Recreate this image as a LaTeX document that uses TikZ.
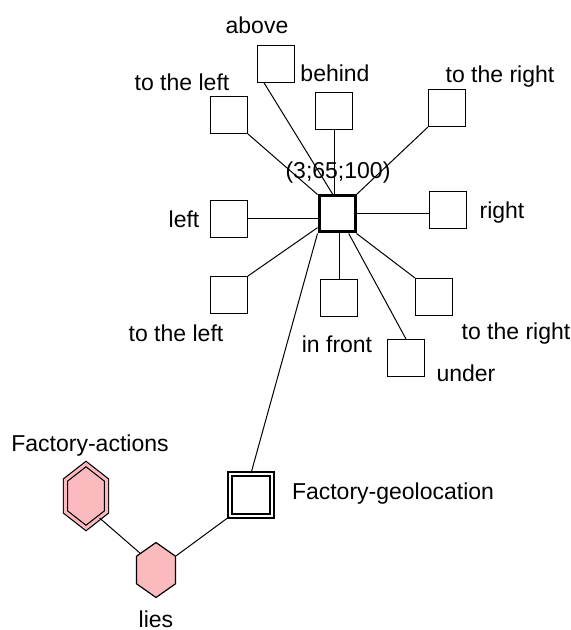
\documentclass[tikz,border=0pt]{standalone}
\usepackage{fontspec}
\setmainfont{Liberation Sans}
\usepackage{xcolor}
\usetikzlibrary{shapes.geometric,calc}
\definecolor{hexpink}{RGB}{250,186,190}

\begin{document}
\begin{tikzpicture}[x=0.5pt,y=-0.5pt,
    box/.style={draw, rectangle, minimum size=18.3pt, inner sep=0pt, line width=0.7pt},
    hub/.style={box, minimum size=18pt, line width=1.5pt},
    geobox/.style={box, minimum size=21pt, double, double distance=1.2pt},
    hexa/.style={draw, regular polygon, regular polygon sides=6, regular polygon rotate=30,
                 fill=hexpink, inner sep=0pt, line width=0.6pt, transform shape},
    lbl/.style={font=\fontsize{11.5}{13.8}\selectfont, inner sep=0pt},
    link/.style={line width=0.5pt}]
                \useasboundingbox (0,0) rectangle (571,630);
                % boxes round the hub
                \node[hub] (hub) at (337,214) {};
                \node[box] (above) at (276,64) {};
                \node[box] (behind) at (334,111) {};
                \node[box] (tl) at (229,115) {};
                \node[box] (tr) at (447,108) {};
                \node[box] (left) at (229,219) {};
                \node[box] (right) at (448,210) {};
                \node[box] (bl) at (229,295) {};
                \node[box] (front) at (339,298) {};
                \node[box] (br) at (434,297) {};
                \node[box] (under) at (406,358) {};
                \node[geobox] (geo) at (251,495) {};
                \begin{scope}[shift={(86,496)}, xscale=0.74]
                    \node[hexa, minimum size=32pt, double=hexpink, double distance=1.5pt] (actions) {};
                \end{scope}
                \begin{scope}[shift={(156,570)}, xscale=0.82]
                    \node[hexa, minimum size=27.5pt] (lies) {};
                \end{scope}
                % labels
                \node[lbl] (hublbl) at (338,173) {(3;65;100)};
                \node[lbl] (abovelbl) at (257,25) {above};
                \node[lbl] (behindlbl) at (335,73) {behind};
                \node[lbl] (tllbl) at (182,82) {to the left};
                \node[lbl] (trlbl) at (500,77) {to the right};
                \node[lbl] (leftlbl) at (184,219) {left};
                \node[lbl] (rightlbl) at (502,213) {right};
                \node[lbl] (bllbl) at (176,333) {to the left};
                \node[lbl] (frontlbl) at (337,344) {in front};
                \node[lbl] (brlbl) at (516,334) {to the right};
                \node[lbl] (underlbl) at (466,373) {under};
                \node[lbl] (geolbl) at (393,494) {Factory-geolocation};
                \node[lbl] (actionslbl) at (90,446) {Factory-actions};
                \node[lbl] (lieslbl) at (156,619) {lies};
                % links
                \draw[link] (hub.north west) -- (tl.south east);
                \draw[link] (hub.102) -- (above.238);
                \draw[link] (behind.south) -- (behind.south |- hub.north);
                \draw[link] (hub.north east) -- (tr.south west);
                \draw[link] (left.east) -- (left.east -| hub.west);
                \draw[link] (hub.east) -- (hub.east -| right.west);
                \draw[link] (hub.215) -- (bl.north east);
                \draw[link] (front.north) -- (front.north |- hub.south);
                \draw[link] (hub.south east) -- (br.north west);
                \draw[link] (hub.-59) -- (under.north);
                \draw[link] (hub.south west) -- (geo.north);
                \draw[link] (lies.corner 6) -- (geo.south west);
                \draw[link] ($(actions.corner 5)!0.35!(actions.corner 4)$) -- ($(lies.corner 2)!0.2!(lies.corner 1)$);
            \end{tikzpicture}
\end{document}
